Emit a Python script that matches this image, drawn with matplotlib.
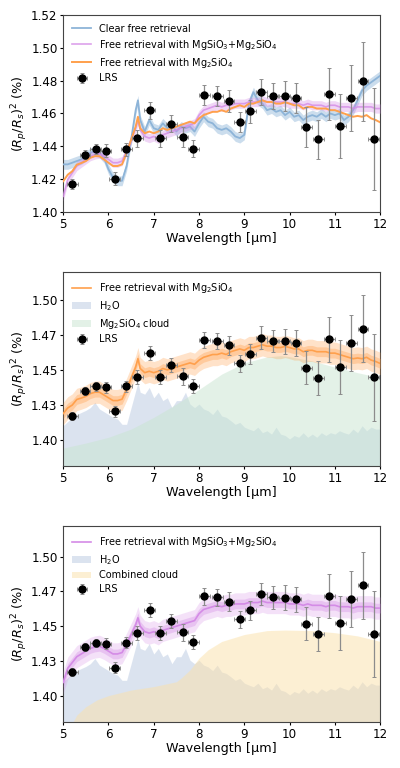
import numpy as np
import matplotlib
matplotlib.use('Agg')
import matplotlib.pyplot as plt
from matplotlib.patches import Patch

# wavelength grid of the retrieved spectra (um)
wl = [5.0, 5.1, 5.2, 5.3, 5.4, 5.5, 5.6, 5.7, 5.8, 5.9,
      6.0, 6.1, 6.2, 6.3, 6.4, 6.5, 6.6, 6.65, 6.7, 6.8, 6.9,
      7.0, 7.1, 7.2, 7.3, 7.4, 7.5, 7.6, 7.7, 7.8, 7.9,
      8.0, 8.1, 8.2, 8.3, 8.4, 8.5, 8.6, 8.7, 8.8, 8.9,
      9.0, 9.1, 9.2, 9.3, 9.4, 9.5, 9.6, 9.7, 9.8, 9.9,
      10.0, 10.1, 10.2, 10.3, 10.4, 10.5, 10.6, 10.7, 10.8, 10.9,
      11.0, 11.1, 11.2, 11.3, 11.4, 11.5, 11.6, 11.7, 11.8, 11.9, 12.0]

# clear free retrieval
clear = [1.429, 1.429, 1.430, 1.431, 1.432, 1.434, 1.436, 1.437, 1.436, 1.433,
         1.426, 1.421, 1.419, 1.419, 1.428, 1.444, 1.462, 1.468, 1.456, 1.449, 1.456,
         1.451, 1.450, 1.454, 1.451, 1.453, 1.449, 1.452, 1.451, 1.452, 1.449,
         1.454, 1.458, 1.455, 1.454, 1.451, 1.450, 1.451, 1.449, 1.446, 1.445,
         1.447, 1.466, 1.473, 1.468, 1.466, 1.462, 1.463, 1.461, 1.462, 1.459,
         1.461, 1.458, 1.459, 1.456, 1.458, 1.459, 1.458, 1.460, 1.458, 1.460,
         1.459, 1.460, 1.456, 1.458, 1.462, 1.468, 1.474, 1.477, 1.479, 1.481, 1.483]

# free retrieval with MgSiO3 + Mg2SiO4
mix = [1.4095, 1.4197, 1.4238, 1.428, 1.430, 1.432, 1.434, 1.435, 1.4355, 1.434,
       1.432, 1.430, 1.430, 1.431, 1.437, 1.444, 1.451, 1.456, 1.450, 1.446, 1.445,
       1.446, 1.4445, 1.447, 1.448, 1.449, 1.450, 1.451, 1.452, 1.453, 1.454,
       1.459, 1.462, 1.463, 1.464, 1.465, 1.464, 1.465, 1.465, 1.466, 1.466,
       1.466, 1.467, 1.467, 1.467, 1.468, 1.467, 1.467, 1.467, 1.467, 1.467,
       1.466, 1.466, 1.466, 1.465, 1.466, 1.465, 1.465, 1.465, 1.464, 1.465,
       1.465, 1.464, 1.464, 1.464, 1.463, 1.464, 1.464, 1.464, 1.464, 1.463, 1.463]

# free retrieval with Mg2SiO4
fo = [1.4187, 1.4227, 1.4248, 1.4288, 1.4298, 1.431, 1.433, 1.434, 1.434, 1.432,
      1.430, 1.428, 1.428, 1.429, 1.436, 1.444, 1.452, 1.458, 1.451, 1.448, 1.449,
      1.448, 1.449, 1.451, 1.450, 1.451, 1.452, 1.453, 1.454, 1.455, 1.454,
      1.457, 1.459, 1.460, 1.461, 1.461, 1.462, 1.461, 1.463, 1.464, 1.465,
      1.464, 1.466, 1.466, 1.467, 1.468, 1.467, 1.467, 1.466, 1.466, 1.4668,
      1.466, 1.465, 1.465, 1.463, 1.464, 1.464, 1.463, 1.463, 1.463, 1.462,
      1.462, 1.461, 1.460, 1.459, 1.458, 1.4585, 1.458, 1.459, 1.457, 1.456, 1.4546]

# H2O contribution
h2o = [1.410, 1.413, 1.416, 1.418, 1.4195, 1.421, 1.423, 1.4267, 1.422, 1.420,
       1.418, 1.416, 1.4148, 1.411, 1.411, 1.423, 1.435, 1.441, 1.434, 1.4326, 1.4374,
       1.430, 1.434, 1.428, 1.430, 1.423, 1.428, 1.428, 1.434, 1.4255, 1.423,
       1.4255, 1.422, 1.4207, 1.418, 1.422, 1.417, 1.416, 1.4136, 1.411, 1.4124,
       1.409, 1.4076, 1.4064, 1.409, 1.405, 1.4064, 1.404, 1.409, 1.404, 1.403,
       1.4005, 1.403, 1.4017, 1.405, 1.4017, 1.404, 1.4017, 1.405, 1.403, 1.405,
       1.404, 1.4064, 1.405, 1.404, 1.4076, 1.405, 1.410, 1.4064, 1.409, 1.4076, 1.4076]

# cloud contributions (coarser grid)
cloud_wl = [5.0, 5.5, 6.0, 6.5, 7.0, 7.5, 8.0, 8.5, 9.0, 9.5, 9.8, 10.0, 10.5, 11.0, 11.5, 12.0]
mg2sio4_cloud = [1.394, 1.3976, 1.4017, 1.4076, 1.416, 1.4255, 1.436, 1.447, 1.455,
                 1.4593, 1.4602, 1.4595, 1.4564, 1.452, 1.448, 1.4445]
comb_wl = [5.0, 5.2, 5.3, 5.5, 5.75, 6.0, 6.5, 7.0, 7.5, 7.6, 7.8, 8.0, 8.2, 8.5,
           9.0, 9.5, 9.9, 10.5, 11.0, 11.5, 12.0]
comb_cloud = [1.372, 1.380, 1.386, 1.392, 1.397, 1.400, 1.404, 1.4065, 1.410, 1.4125,
              1.4185, 1.427, 1.433, 1.439, 1.444, 1.4468, 1.4472, 1.4468, 1.4453, 1.443, 1.439]

# MIRI LRS data
lrs_wl = [5.20, 5.48, 5.72, 5.94, 6.14, 6.39, 6.64, 6.91, 7.14, 7.39, 7.64, 7.87,
          8.12, 8.40, 8.66, 8.90, 9.13, 9.37, 9.63, 9.89, 10.14, 10.37, 10.63, 10.88,
          11.12, 11.36, 11.62, 11.86]
lrs_depth = [1.4171, 1.435, 1.4381, 1.4374, 1.4202, 1.4381, 1.4448, 1.4619, 1.4448,
             1.4538, 1.4455, 1.4386, 1.4714, 1.4707, 1.4676, 1.4548, 1.4614, 1.4731,
             1.4707, 1.4705, 1.4693, 1.4517, 1.4443, 1.4719, 1.4521, 1.4695, 1.4795, 1.4446]
lrs_err = [0.003, 0.003, 0.003, 0.004, 0.004, 0.004, 0.005, 0.005, 0.005, 0.005,
           0.006, 0.005, 0.006, 0.006, 0.007, 0.006, 0.007, 0.008, 0.008, 0.009,
           0.009, 0.012, 0.012, 0.016, 0.0195, 0.020, 0.024, 0.031]
lrs_xerr = 0.12

c_clear = '#8db4d8'
c_mix = '#d48be6'
c_fo = '#ffa04c'
c_h2o = '#b9c9e1'
c_fo_cloud = '#c9e5d1'
c_comb = '#fbe1a9'

plt.rcParams['font.family'] = ['DejaVu Sans']

wl_a = np.array(wl)


def draw_lrs(ax):
    return ax.errorbar(lrs_wl, lrs_depth, yerr=lrs_err, xerr=lrs_xerr, fmt='o',
                       color='black', ms=5, ecolor='#8c8c8c', elinewidth=0.9,
                       capsize=1.5, capthick=0.7, zorder=10)


def style(ax):
    ax.set_xlim(5, 12)
    ax.set_xticks([5, 6, 7, 8, 9, 10, 11, 12])
    ax.tick_params(labelsize=8.6, length=2.5, pad=1.5)
    ax.set_xlabel('Wavelength [µm]', fontsize=9.2, labelpad=1)
    ax.set_ylabel('$(R_p/R_s)^2$ (%)', fontsize=9.2, labelpad=0.5)
    for s in ax.spines.values():
        s.set_color('#444444')


def band(ax, y, w, color, alpha, z):
    y = np.array(y)
    ax.fill_between(wl_a, y - w, y + w, color=color, alpha=alpha, lw=0, zorder=z)


def legend(ax, handles, labels):
    ax.legend(handles, labels, loc='upper left', fontsize=7, frameon=False,
              handlelength=2.0, handletextpad=0.8, labelspacing=0.4)


fig = plt.figure(figsize=(4, 7.68), dpi=100)

# top panel
ax1 = fig.add_axes([0.158, 0.724, 0.7925, 0.2565])
band(ax1, clear, 0.003, c_clear, 0.45, 2)
l1, = ax1.plot(wl, clear, color=c_clear, lw=1.3, zorder=3)
band(ax1, mix, 0.0028, c_mix, 0.35, 4)
l2, = ax1.plot(wl, mix, color=c_mix, lw=1.2, alpha=0.8, zorder=5)
l3, = ax1.plot(wl, fo, color=c_fo, lw=1.4, zorder=6)
e1 = draw_lrs(ax1)
ax1.set_ylim(1.40, 1.52)
ax1.set_yticks([1.40, 1.42, 1.44, 1.46, 1.48, 1.50, 1.52])
ax1.set_yticklabels(['1.40', '1.42', '1.44', '1.46', '1.48', '1.50', '1.52'])
style(ax1)
legend(ax1, [l1, l2, l3, e1],
       ['Clear free retrieval', 'Free retrieval with MgSiO$_3$+Mg$_2$SiO$_4$',
        'Free retrieval with Mg$_2$SiO$_4$', 'LRS'])

yt = [1.40, 1.425, 1.45, 1.475, 1.50]
ytl = ['1.40', '1.43', '1.45', '1.47', '1.50']

# middle panel
ax2 = fig.add_axes([0.158, 0.393, 0.7925, 0.2526])
ax2.fill_between(wl, 1.37, h2o, color=c_h2o, alpha=0.5, lw=0, zorder=1)
ax2.fill_between(cloud_wl, 1.37, mg2sio4_cloud, color=c_fo_cloud, alpha=0.5, lw=0, zorder=2)
band(ax2, fo, 0.008, c_fo, 0.3, 3)
band(ax2, fo, 0.0035, c_fo, 0.35, 4)
m1, = ax2.plot(wl, fo, color=c_fo, lw=1.2, zorder=5)
e2 = draw_lrs(ax2)
ax2.set_ylim(1.381, 1.52)
ax2.set_yticks(yt)
ax2.set_yticklabels(ytl)
style(ax2)
legend(ax2, [m1, Patch(color=c_h2o, alpha=0.5, lw=0), Patch(color=c_fo_cloud, alpha=0.5, lw=0), e2],
       ['Free retrieval with Mg$_2$SiO$_4$', 'H$_2$O', 'Mg$_2$SiO$_4$ cloud', 'LRS'])

# bottom panel
ax3 = fig.add_axes([0.158, 0.0599, 0.7925, 0.255])
ax3.fill_between(wl, 1.37, h2o, color=c_h2o, alpha=0.5, lw=0, zorder=1)
ax3.fill_between(comb_wl, 1.37, comb_cloud, color=c_comb, alpha=0.5, lw=0, zorder=2)
band(ax3, mix, 0.008, c_mix, 0.25, 3)
band(ax3, mix, 0.0035, c_mix, 0.35, 4)
b1, = ax3.plot(wl, mix, color=c_mix, lw=1.2, zorder=5)
e3 = draw_lrs(ax3)
ax3.set_ylim(1.381, 1.522)
ax3.set_yticks(yt)
ax3.set_yticklabels(ytl)
style(ax3)
legend(ax3, [b1, Patch(color=c_h2o, alpha=0.5, lw=0), Patch(color=c_comb, alpha=0.5, lw=0), e3],
       ['Free retrieval with MgSiO$_3$+Mg$_2$SiO$_4$', 'H$_2$O', 'Combined cloud', 'LRS'])

fig.savefig('out.png', dpi=100)
